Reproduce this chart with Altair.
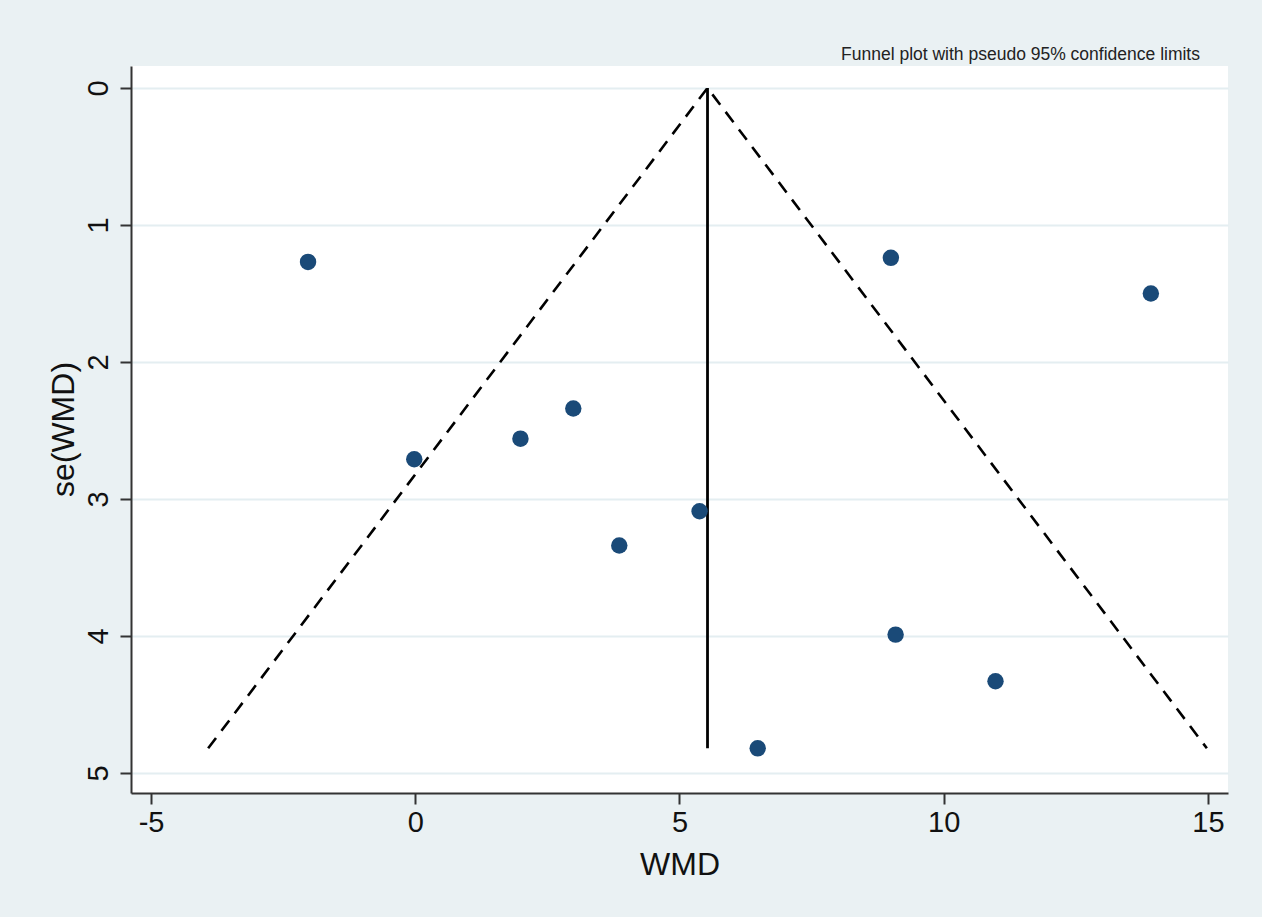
import altair as alt
import pandas as pd

# Study estimates: weighted mean difference and its standard error
wmd = [-2.03, 9.00, 13.92, 2.99, 1.99, -0.02, 5.38, 3.86, 9.09, 10.98, 6.48]
se_wmd = [1.27, 1.24, 1.50, 2.34, 2.56, 2.71, 3.09, 3.34, 3.99, 4.33, 4.82]

# Pooled estimate and pseudo 95% confidence limit lines
pooled_wmd = 5.53
pooled_se_top = 0.0
pooled_se_bottom = 4.82
limit_x = [-3.92, 5.53, 14.98]
limit_se = [4.82, 0.0, 4.82]

x_ticks = [-5, 0, 5, 10, 15]
y_ticks = [0, 1, 2, 3, 4, 5]

FONT = "Liberation Sans"
INK = "#111111"

points = pd.DataFrame({"WMD": wmd, "se": se_wmd})
limits = pd.DataFrame({"WMD": limit_x, "se": limit_se, "order": list(range(len(limit_x)))})
center = pd.DataFrame({"WMD": [pooled_wmd], "se": [pooled_se_top], "se2": [pooled_se_bottom]})

x_scale = alt.Scale(domain=[-5.38, 15.38], nice=False, zero=False)
y_scale = alt.Scale(domain=[-0.16, 5.146], nice=False, zero=False, reverse=True)

x_axis = alt.Axis(
    title="WMD", values=x_ticks, grid=False, labelExpr="'' + datum.value",
    domainColor="#333333", domainWidth=2, tickColor="#333333", tickWidth=2, tickSize=11,
    labelFontSize=29, labelColor=INK, labelPadding=4, labelFont=FONT,
    titleFontSize=32, titleFontWeight="normal", titleColor=INK, titleFont=FONT,
    titleBaseline="alphabetic", titleY=81,
)
y_axis = alt.Axis(
    title="se(WMD)", values=y_ticks, labelExpr="'' + datum.value",
    grid=True, gridColor="#e4eef1", gridWidth=2,
    domainColor="#333333", domainWidth=2, tickColor="#333333", tickWidth=2, tickSize=11,
    labelFontSize=29, labelColor=INK, labelAngle=270, labelAlign="center",
    labelBaseline="alphabetic", labelPadding=13, labelFont=FONT,
    titleFontSize=32, titleFontWeight="normal", titleColor=INK, titleFont=FONT,
    titleAngle=270, titleBaseline="alphabetic", titleAlign="center", titleX=-58, titleY=363,
)

limit_lines = alt.Chart(limits).mark_line(
    color="#000000", strokeWidth=2.6, strokeDash=[13, 9]
).encode(
    x=alt.X("WMD:Q", scale=x_scale, axis=x_axis),
    y=alt.Y("se:Q", scale=y_scale, axis=y_axis),
    order="order:Q",
)

center_line = alt.Chart(center).mark_rule(color="#000000", strokeWidth=2.8).encode(
    x=alt.X("WMD:Q", scale=x_scale),
    y=alt.Y("se:Q", scale=y_scale),
    y2="se2:Q",
)

study_points = alt.Chart(points).mark_circle(
    size=270, color="#1a4a78", opacity=1
).encode(
    x=alt.X("WMD:Q", scale=x_scale),
    y=alt.Y("se:Q", scale=y_scale),
)

chart = alt.layer(limit_lines, center_line, study_points).properties(
    width=1097,
    height=727,
    autosize=alt.AutoSizeParams(type="none"),
    padding={"left": 131, "top": 66, "right": 34, "bottom": 124},
    background="#eaf1f3",
    title=alt.TitleParams(
        "Funnel plot with pseudo 95% confidence limits",
        anchor="end", fontSize=17.5, fontWeight="normal", color="#222222",
        font=FONT, dx=-28, offset=3,
    ),
).configure_view(fill="#ffffff", stroke=None)

chart.save("out.html", embed_options={"renderer": "svg", "actions": False})
